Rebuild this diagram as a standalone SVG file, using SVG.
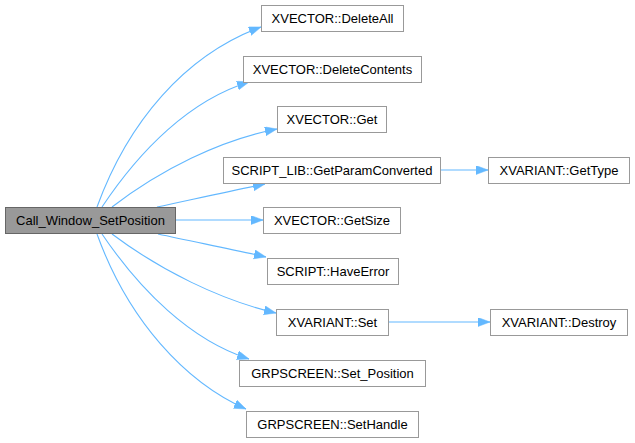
<svg xmlns="http://www.w3.org/2000/svg" width="635" height="443" viewBox="0 0 635 443">
<style>
.n rect{fill:#ffffff;stroke:#999999;stroke-width:1}
.m rect{fill:#999999;stroke:#666666;stroke-width:1}
text{font-family:"Liberation Sans",Arial,sans-serif;font-size:13px;fill:#000000;text-anchor:middle}
.e path{fill:none;stroke:#63b8ff;stroke-width:1.1;marker-end:url(#ah)}
</style>
<defs>
<marker id="ah" markerUnits="userSpaceOnUse" markerWidth="13" markerHeight="10" refX="12" refY="4.5" orient="auto">
<path d="M0,0 L12,4.5 L0,9 z" fill="#63b8ff" stroke="#63b8ff" stroke-width="0.5"/>
</marker>
</defs>
<g id="edges" class="e">
<path d="M97,207 C128,122 185,55 261,27"/>
<path d="M102,207 C140,150 190,100 249,82"/>
<path d="M112,207 C160,170 220,140 277,129"/>
<path d="M157,207 C190,200 230,191 265,184"/>
<path d="M175,220 L263,220"/>
<path d="M158,234 C195,242 235,250 266,257"/>
<path d="M112,234 C160,270 220,300 276,313"/>
<path d="M102,234 C140,290 190,340 249,359"/>
<path d="M97,234 C128,320 185,382 246,409"/>
<path d="M441,170 L488,170"/>
<path d="M388,322 L490,322"/>
</g>
<g id="main" class="m"><rect x="5.5" y="207.5" width="170" height="26"/><text x="90.5" y="225">Call_Window_SetPosition</text></g>
<g id="deleteall" class="n"><rect x="261.5" y="5.5" width="142" height="26"/><text x="332.5" y="23">XVECTOR::DeleteAll</text></g>
<g id="deletecontents" class="n"><rect x="243.5" y="56.5" width="178" height="26"/><text x="332.5" y="74">XVECTOR::DeleteContents</text></g>
<g id="get" class="n"><rect x="277.5" y="106.5" width="109" height="26"/><text x="332" y="124">XVECTOR::Get</text></g>
<g id="getparamconverted" class="n"><rect x="223.5" y="157.5" width="217" height="26"/><text x="332" y="175">SCRIPT_LIB::GetParamConverted</text></g>
<g id="gettype" class="n"><rect x="488.5" y="157.5" width="141" height="26"/><text x="559" y="175">XVARIANT::GetType</text></g>
<g id="getsize" class="n"><rect x="263.5" y="207.5" width="137" height="26"/><text x="332" y="225">XVECTOR::GetSize</text></g>
<g id="haveerror" class="n"><rect x="267.5" y="258.5" width="131" height="26"/><text x="333" y="276">SCRIPT::HaveError</text></g>
<g id="set" class="n"><rect x="276.5" y="309.5" width="112" height="26"/><text x="332.5" y="327">XVARIANT::Set</text></g>
<g id="destroy" class="n"><rect x="490.5" y="309.5" width="137" height="26"/><text x="559" y="327">XVARIANT::Destroy</text></g>
<g id="setposition" class="n"><rect x="239.5" y="360.5" width="186" height="26"/><text x="332.5" y="378">GRPSCREEN::Set_Position</text></g>
<g id="sethandle" class="n"><rect x="246.5" y="411.5" width="172" height="26"/><text x="332.5" y="429">GRPSCREEN::SetHandle</text></g>
</svg>
